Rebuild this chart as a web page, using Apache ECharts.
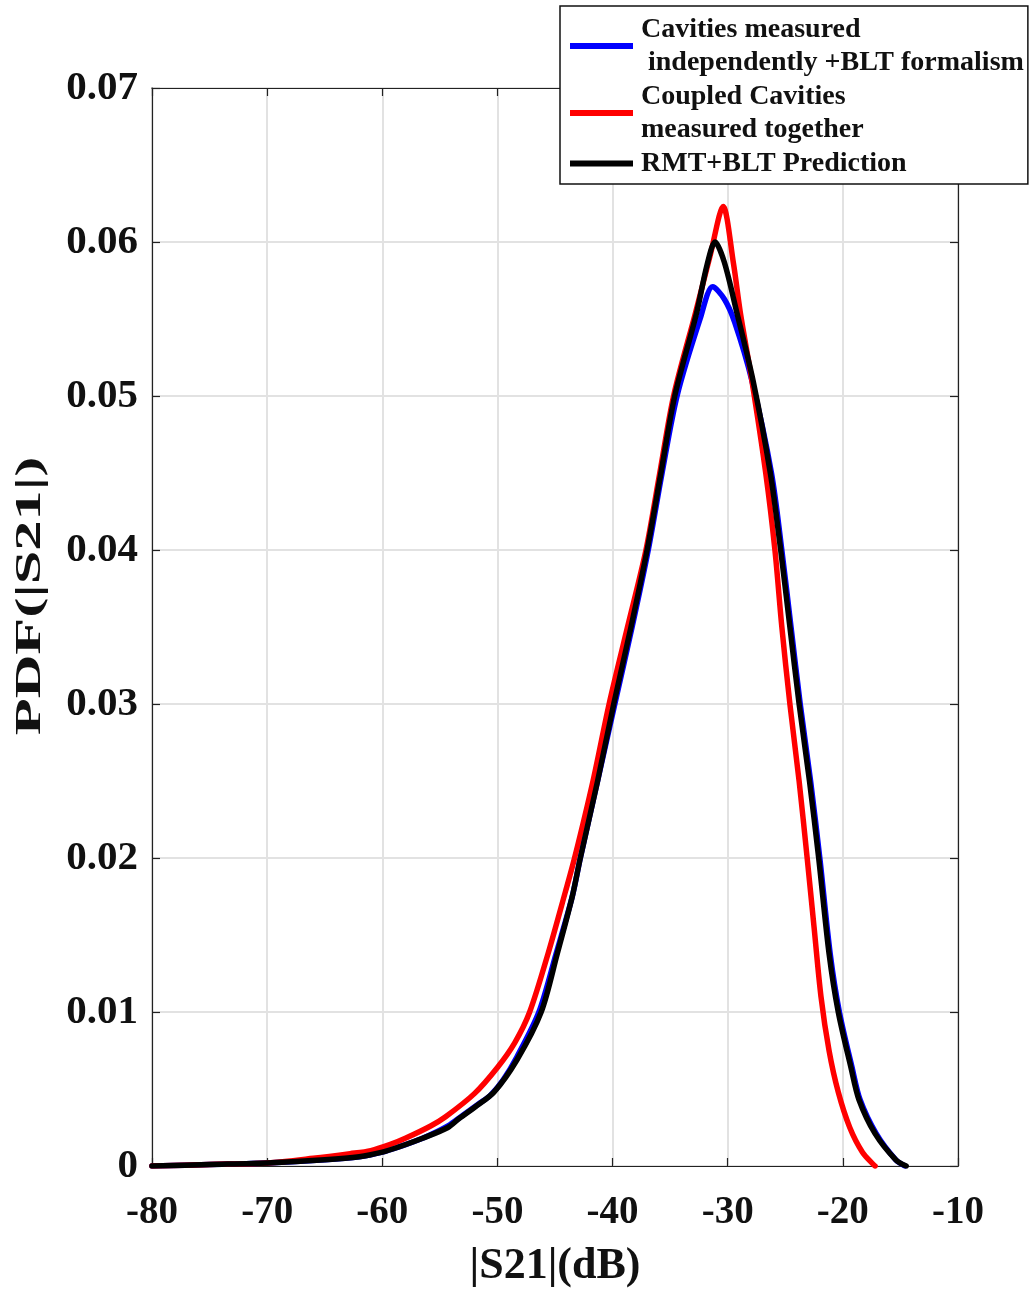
<!DOCTYPE html>
<html>
<head>
<meta charset="utf-8">
<title>PDF(|S21|)</title>
<script src="https://cdn.jsdelivr.net/npm/echarts@6/dist/echarts.min.js"></script>
<style>
  html, body { margin: 0; padding: 0; background: #fff; }
  #chart { width: 1031px; height: 1293px; }
</style>
</head>
<body>
<div id="chart"></div>
<script>
// Axis settings
const xTicks = [-80, -70, -60, -50, -40, -30, -20, -10];
const yTicks = [0, 0.01, 0.02, 0.03, 0.04, 0.05, 0.06, 0.07];

// Titles and series names
const xTitle = '|S21|(dB)';
const yTitle = 'PDF(|S21|)';
const nameBlue = 'Cavities measured\n independently +BLT formalism';
const nameRed = 'Coupled Cavities\nmeasured together';
const nameBlack = 'RMT+BLT Prediction';

// [|S21| (dB), PDF] pairs
const blueData = [
  [-80, 0], [-75, 0.0001], [-70, 0.0002], [-65, 0.0004], [-62, 0.0006], [-60, 0.0009],
  [-58.7, 0.0012], [-56.5, 0.0018], [-54.3, 0.0026], [-53, 0.0033], [-51.5, 0.0041],
  [-50.6, 0.0046], [-49.5, 0.0056], [-48.3, 0.0071], [-46.4, 0.0100], [-44.9, 0.0138],
  [-43.5, 0.0175], [-42.8, 0.0200], [-41.3, 0.0250], [-39.8, 0.0300], [-38.3, 0.0350],
  [-36.9, 0.0400], [-35.7, 0.0450], [-34.4, 0.0500], [-32.4, 0.0550], [-31.3, 0.0571],
  [-30.3, 0.0563], [-29.4, 0.0548], [-27.9, 0.0510], [-26.2, 0.0450], [-25.3, 0.0400],
  [-24.5, 0.0350], [-23.7, 0.0300], [-22.8, 0.0250], [-22.0, 0.0200], [-21.1, 0.0138],
  [-20.3, 0.0100], [-19.2, 0.0064], [-18.5, 0.0043], [-17.1, 0.0021], [-15.4, 0.0004],
  [-14.6, 0]
];

const redData = [
  [-80, 0], [-75, 0.0001], [-70, 0.0002], [-66, 0.0005], [-62.8, 0.0008], [-61, 0.0010],
  [-59.3, 0.0014], [-58, 0.0018], [-55.8, 0.0026], [-54.5, 0.0032], [-52, 0.0047],
  [-50, 0.0064], [-48.5, 0.0080], [-47.2, 0.0100], [-45.6, 0.0138], [-44.1, 0.0178],
  [-43.3, 0.0200], [-41.7, 0.0250], [-40.3, 0.0300], [-38.7, 0.0350], [-37.1, 0.0400],
  [-35.9, 0.0450], [-34.7, 0.0500], [-32.8, 0.0554], [-31.5, 0.0592], [-30.4, 0.0623],
  [-29.5, 0.0586], [-28.9, 0.0554], [-27.9, 0.0510], [-26.7, 0.0450], [-25.9, 0.0400],
  [-25.3, 0.0350], [-24.6, 0.0300], [-23.8, 0.0250], [-23.1, 0.0200], [-22.5, 0.0155],
  [-21.9, 0.0110], [-21.2, 0.0075], [-20.4, 0.0048], [-19.4, 0.0025], [-18.3, 0.0009],
  [-17.2, 0]
];

const blackData = [
  [-80, 0], [-75, 0.0001], [-70, 0.0002], [-65, 0.0004], [-62, 0.0006], [-60, 0.0009],
  [-58.7, 0.0012], [-56.5, 0.0018], [-54.3, 0.0025], [-53.3, 0.0031], [-52, 0.0038],
  [-50.3, 0.0048], [-48.3, 0.0069], [-46.2, 0.0100], [-44.8, 0.0138], [-43.5, 0.0175],
  [-42.8, 0.0200], [-41.3, 0.0250], [-39.9, 0.0300], [-38.4, 0.0350], [-37.0, 0.0400],
  [-35.8, 0.0450], [-34.6, 0.0500], [-32.7, 0.0554], [-31.8, 0.0585], [-31.1, 0.0600],
  [-30.3, 0.0587], [-29.2, 0.0554], [-27.8, 0.0510], [-26.3, 0.0450], [-25.4, 0.0400],
  [-24.6, 0.0350], [-23.8, 0.0300], [-22.9, 0.0250], [-22.1, 0.0200], [-21.2, 0.0138],
  [-20.4, 0.0100], [-19.3, 0.0064], [-18.6, 0.0043], [-17.2, 0.0021], [-15.4, 0.0004],
  [-14.5, 0]
];

const FONT = '"Liberation Serif", "Times New Roman", serif';

const chart = echarts.init(document.getElementById('chart'), null, { renderer: 'canvas' });

function lineSeries(name, data, color) {
  return {
    name: name,
    type: 'line',
    data: data,
    color: color,
    showSymbol: false,
    smooth: 0.3,
    lineStyle: { color: color, width: 5.5, cap: 'round', join: 'round' },
    itemStyle: { color: color },
    emphasis: { disabled: true },
    animation: false
  };
}

const gridLine = { show: true, lineStyle: { color: '#e2e2e2', width: 2 } };
const tickInside = { show: true, inside: true, length: 8, lineStyle: { color: '#222', width: 1.2 } };
const frameLine = { show: true, onZero: false, lineStyle: { color: '#222', width: 1.2 } };

chart.setOption({
  backgroundColor: '#fff',
  animation: false,
  grid: {
    left: 152, right: 73, top: 88, bottom: 127,
    outerBoundsMode: 'none',
    containLabel: false,
    show: true, borderColor: '#222', borderWidth: 1.2, backgroundColor: '#fff'
  },
  legend: {
    orient: 'vertical',
    left: 560, top: 6,
    padding: [7, 4, 4, 10],
    itemGap: 1,
    itemWidth: 63,
    itemHeight: 6,
    icon: 'rect',
    backgroundColor: '#fff',
    borderColor: '#111',
    borderWidth: 1.5,
    textStyle: {
      fontFamily: FONT, fontWeight: 'bold', fontSize: 28, lineHeight: 33,
      color: '#111', padding: [0, 0, 0, 3]
    },
    data: [nameBlue, nameRed, nameBlack]
  },
  // y title is drawn as text stretched along its length
  graphic: [{
    type: 'text',
    x: 31, y: 596,
    rotation: Math.PI / 2,
    scaleX: 1.68,
    style: {
      text: yTitle,
      font: 'bold 36px ' + FONT,
      fill: '#111',
      align: 'center',
      verticalAlign: 'middle'
    }
  }],
  xAxis: [{
    type: 'value',
    min: xTicks[0], max: xTicks[xTicks.length - 1], interval: 10,
    position: 'bottom',
    name: xTitle,
    nameLocation: 'middle',
    nameGap: 79,
    nameTextStyle: { fontFamily: FONT, fontWeight: 'bold', fontSize: 44, color: '#111' },
    axisLine: frameLine,
    axisTick: tickInside,
    axisLabel: { fontFamily: FONT, fontWeight: 'bold', fontSize: 39, color: '#111', margin: 27 },
    splitLine: gridLine
  }, {
    type: 'value',
    min: xTicks[0], max: xTicks[xTicks.length - 1], interval: 10,
    position: 'top',
    axisLine: frameLine,
    axisTick: tickInside,
    axisLabel: { show: false },
    splitLine: { show: false }
  }],
  yAxis: [{
    type: 'value',
    min: yTicks[0], max: yTicks[yTicks.length - 1], interval: 0.01,
    position: 'left',
    axisLine: frameLine,
    axisTick: tickInside,
    axisLabel: { fontFamily: FONT, fontWeight: 'bold', fontSize: 41, color: '#111', margin: 14 },
    splitLine: gridLine
  }, {
    type: 'value',
    min: yTicks[0], max: yTicks[yTicks.length - 1], interval: 0.01,
    position: 'right',
    axisLine: frameLine,
    axisTick: tickInside,
    axisLabel: { show: false },
    splitLine: { show: false }
  }],
  series: [
    lineSeries(nameBlue, blueData, '#0000ff'),
    lineSeries(nameRed, redData, '#ff0000'),
    lineSeries(nameBlack, blackData, '#000000')
  ]
});
</script>
</body>
</html>
